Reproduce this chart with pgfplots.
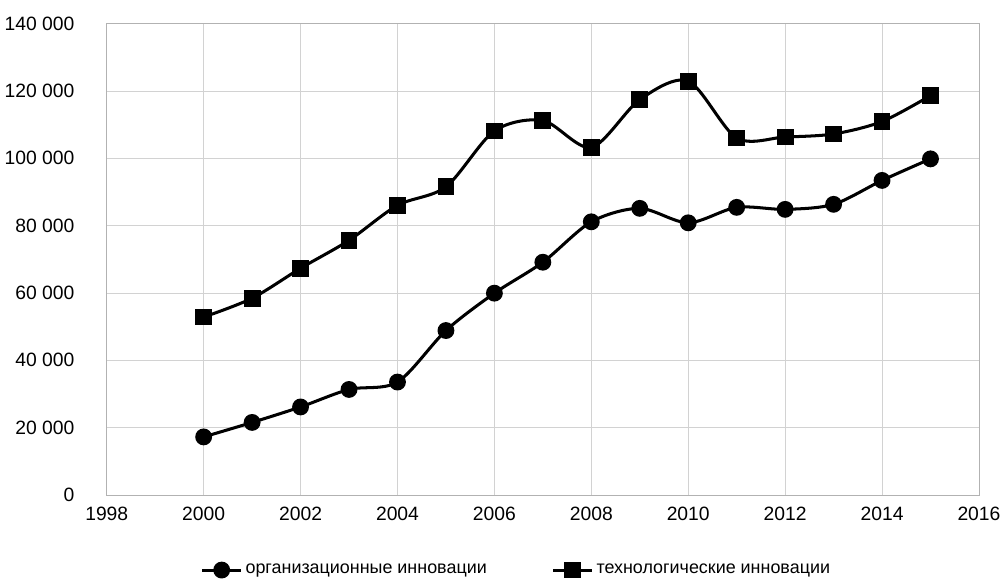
\documentclass[border=0pt]{standalone}
\usepackage{pgfplots}
\pgfplotsset{compat=1.18}
\usepackage{fontspec}
\setmainfont{Liberation Sans}
\begin{document}
\begin{tikzpicture}
\begin{axis}[
  scale only axis, width=633pt, height=342pt,
  xmin=1998, xmax=2016, ymin=0, ymax=140000,
  scaled y ticks=false,
  xtick={1998,2000,...,2016}, xticklabels={1998,2000,2002,2004,2006,2008,2010,2012,2014,2016},
  ytick={0,20000,...,140000},
  yticklabels={0,20 000,40 000,60 000,80 000,100 000,120 000,140 000},
  ymajorgrids, xmajorgrids, grid style={gray!35},
  axis line style={gray!60}, tick style={draw=none},
  yticklabel style={xshift=-20pt},
  xticklabel style={yshift=-5pt},
  ticklabel style={font=\fontsize{14}{16}\selectfont},
  legend style={at={(0.47,-0.135)}, anchor=north, draw=none, legend columns=2,
    font=\fontsize{13}{15}\selectfont, /tikz/every even column/.append style={column sep=45pt}},
  legend image code/.code={\draw[#1] (0cm,0cm) -- (1.0cm,0cm); \draw[#1, only marks] plot coordinates {(0.5cm,0cm)};},
  legend cell align=left,
  after end axis/.code={\path (rel axis cs:0,1.05);},
]
\addplot[black, line width=2.2pt, smooth, mark=*, mark size=5pt] coordinates {
(2000,17200)(2001,21500)(2002,26100)(2003,31300)(2004,33500)(2005,48800)(2006,59900)(2007,69100)(2008,81100)(2009,85100)(2010,80800)(2011,85400)(2012,84800)(2013,86300)(2014,93400)(2015,99800)};
\addlegendentry{организационные инновации}
\addplot[black, line width=2.2pt, smooth, mark=square*, mark size=5pt] coordinates {
(2000,52800)(2001,58400)(2002,67300)(2003,75600)(2004,86000)(2005,91500)(2006,108100)(2007,111200)(2008,103200)(2009,117400)(2010,122900)(2011,106000)(2012,106300)(2013,107200)(2014,110900)(2015,118600)};
\addlegendentry{технологические инновации}
\end{axis}
\end{tikzpicture}
\end{document}
